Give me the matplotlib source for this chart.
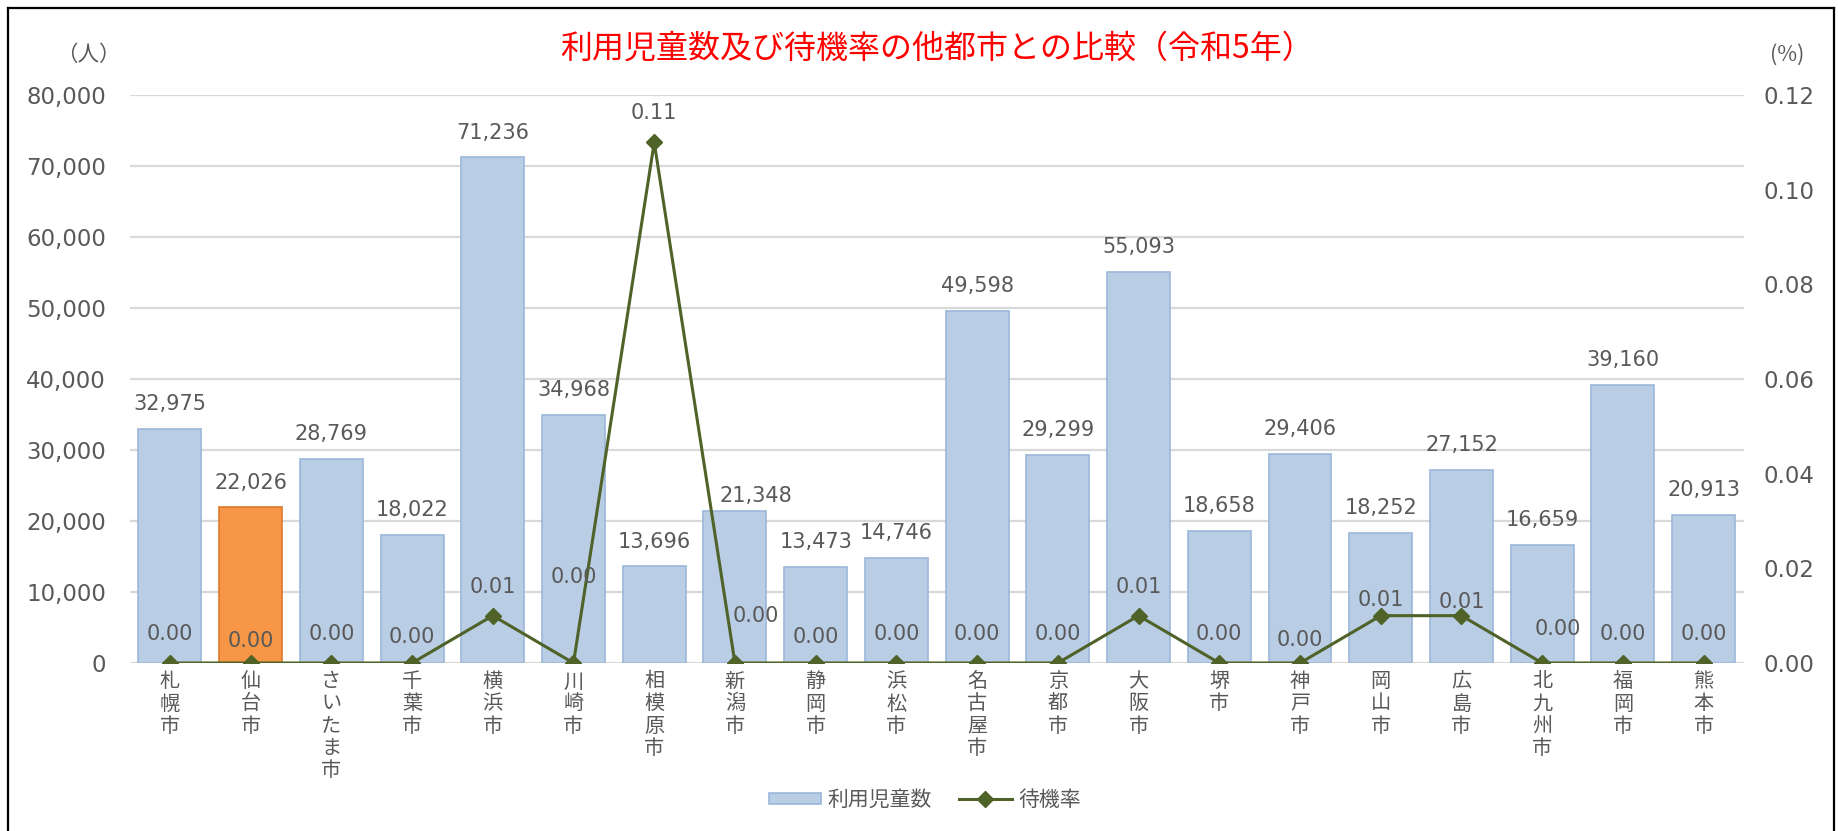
import matplotlib
matplotlib.use("Agg")
import matplotlib.pyplot as plt
from matplotlib.patches import Patch
from matplotlib.lines import Line2D
from matplotlib.ticker import FuncFormatter, MultipleLocator

plt.rcParams['font.family'] = ['Noto Sans CJK JP', 'DejaVu Sans']
NUMFONT = ['DejaVu Sans', 'Noto Sans CJK JP']

# ---- data ----
cities = ["札幌市", "仙台市", "さいたま市", "千葉市", "横浜市", "川崎市", "相模原市",
          "新潟市", "静岡市", "浜松市", "名古屋市", "京都市", "大阪市", "堺市",
          "神戸市", "岡山市", "広島市", "北九州市", "福岡市", "熊本市"]
children = [32975, 22026, 28769, 18022, 71236, 34968, 13696, 21348, 13473, 14746,
            49598, 29299, 55093, 18658, 29406, 18252, 27152, 16659, 39160, 20913]
wait_rate = [0.00, 0.00, 0.00, 0.00, 0.01, 0.00, 0.11, 0.00, 0.00, 0.00,
             0.00, 0.00, 0.01, 0.00, 0.00, 0.01, 0.01, 0.00, 0.00, 0.00]
highlight = "仙台市"

title = "利用児童数及び待機率の他都市との比較（令和5年）"
series_bar = "利用児童数"
series_line = "待機率"

# label placement tweaks (pixels)
rate_label_dy = [29, 22, 29, 26, 29, 86, 29, 47, 26, 29, 29, 29, 29, 29, 23, 16, 14, 34, 29, 29]
rate_label_dx = [0, 0, 0, 0, 0, 0, 0, 21, 0, 0, 0, 0, 0, 0, 0, 0, 0, 16, 0, 0]
bar_label_dy = [25, 24, 25, 25, 24, 25, 24, 15, 25, 25, 25, 25, 25, 25, 25, 25, 25, 25, 25, 25]
bar_label_dx = [0, 0, 0, 0, 0, 0, 0, 21, 0, 0, 0, 0, 0, 0, 0, 0, 0, 0, 0, 0]

# ---- style ----
BLUE = "#B9CDE5"
BLUE_EDGE = "#9BB7D9"
ORANGE = "#F79646"
ORANGE_EDGE = "#E0782A"
GREEN = "#4F6228"
GRAY = "#595959"
GRID = "#D9D9D9"

W, H = 1838, 831
fig = plt.figure(figsize=(W / 100, H / 100), dpi=100)
left, right, bottom, top = 129.5, 1744, 663, 95
ax = fig.add_axes([left / W, 1 - bottom / H, (right - left) / W, (bottom - top) / H])
ax2 = ax.twinx()

x = list(range(len(cities)))
face = [ORANGE if c == highlight else BLUE for c in cities]
edge = [ORANGE_EDGE if c == highlight else BLUE_EDGE for c in cities]
ax.bar(x, children, width=0.78, color=face, edgecolor=edge, linewidth=1.2, zorder=2)

ax.set_xlim(-0.5, len(cities) - 0.5)
ax.set_ylim(0, 80000)
ax.yaxis.set_major_locator(MultipleLocator(10000))
ax.yaxis.set_major_formatter(FuncFormatter(lambda v, p: f"{int(v):,}"))
ax.grid(axis='y', color=GRID, linewidth=1.6, zorder=0)
ax.set_axisbelow(True)
for s in ax.spines.values():
    s.set_visible(False)
for s in ax2.spines.values():
    s.set_visible(False)
ax.tick_params(axis='y', length=0, pad=17, labelsize=16.5, labelcolor=GRAY)
for lbl in ax.get_yticklabels():
    lbl.set_family(NUMFONT)
ax.set_xticks(x)
ax.set_xticklabels(["\n".join(c) for c in cities], fontsize=14.5, color=GRAY,
                   linespacing=1.07, va='top')
ax.tick_params(axis='x', length=0, pad=6)

for i, v in enumerate(children):
    ax.annotate(f"{v:,}", (x[i], v), xytext=(bar_label_dx[i], bar_label_dy[i]),
                textcoords='offset pixels', ha='center', va='center',
                fontsize=15, color=GRAY, zorder=5, family=NUMFONT)

ax2.plot(x, wait_rate, color=GREEN, linewidth=2.2, marker='D', markersize=8,
         markerfacecolor=GREEN, markeredgecolor=GREEN, zorder=4)
ax2.set_ylim(0, 0.12)
ax2.yaxis.set_major_locator(MultipleLocator(0.02))
ax2.yaxis.set_major_formatter(FuncFormatter(lambda v, p: f"{v:.2f}"))
ax2.tick_params(axis='y', length=0, pad=14, labelsize=16.5, labelcolor=GRAY)
for lbl in ax2.get_yticklabels():
    lbl.set_family(NUMFONT)
for i, v in enumerate(wait_rate):
    ax2.annotate(f"{v:.2f}", (x[i], v), xytext=(rate_label_dx[i], rate_label_dy[i]),
                 textcoords='offset pixels', ha='center', va='center',
                 fontsize=15, color=GRAY, zorder=6, family=NUMFONT)

# unit labels and title
fig.text(88 / W, 1 - 55 / H, "（人）", ha='center', va='center', fontsize=15.5, color=GRAY)
fig.text(1787 / W, 1 - 55 / H, "(%)", ha='center', va='center', fontsize=15.5, color=GRAY)
fig.text(937 / W, 1 - 49 / H, title, ha='center', va='center', fontsize=23,
         color="#FF0000")

# legend
handles = [Patch(facecolor=BLUE, edgecolor=BLUE_EDGE, linewidth=1.2),
           Line2D([0], [0], color=GREEN, linewidth=2.2, marker='D', markersize=8)]
fig.legend(handles, [series_bar, series_line], loc='center',
           bbox_to_anchor=(925 / W, 1 - 800 / H), ncol=2, frameon=False,
           fontsize=15, handlelength=2.5, handleheight=0.45, columnspacing=1.3,
           handletextpad=0.34, labelcolor=GRAY)

# chart frame
fig.add_artist(Line2D([8 / W, 8 / W], [0, 1 - 8 / H], color='black', linewidth=1.6,
                      transform=fig.transFigure))
fig.add_artist(Line2D([8 / W, 1834 / W], [1 - 8 / H, 1 - 8 / H], color='black', linewidth=1.6,
                      transform=fig.transFigure))
fig.add_artist(Line2D([1834 / W, 1834 / W], [0, 1 - 8 / H], color='black', linewidth=1.6,
                      transform=fig.transFigure))

fig.savefig("out.png", dpi=100)
